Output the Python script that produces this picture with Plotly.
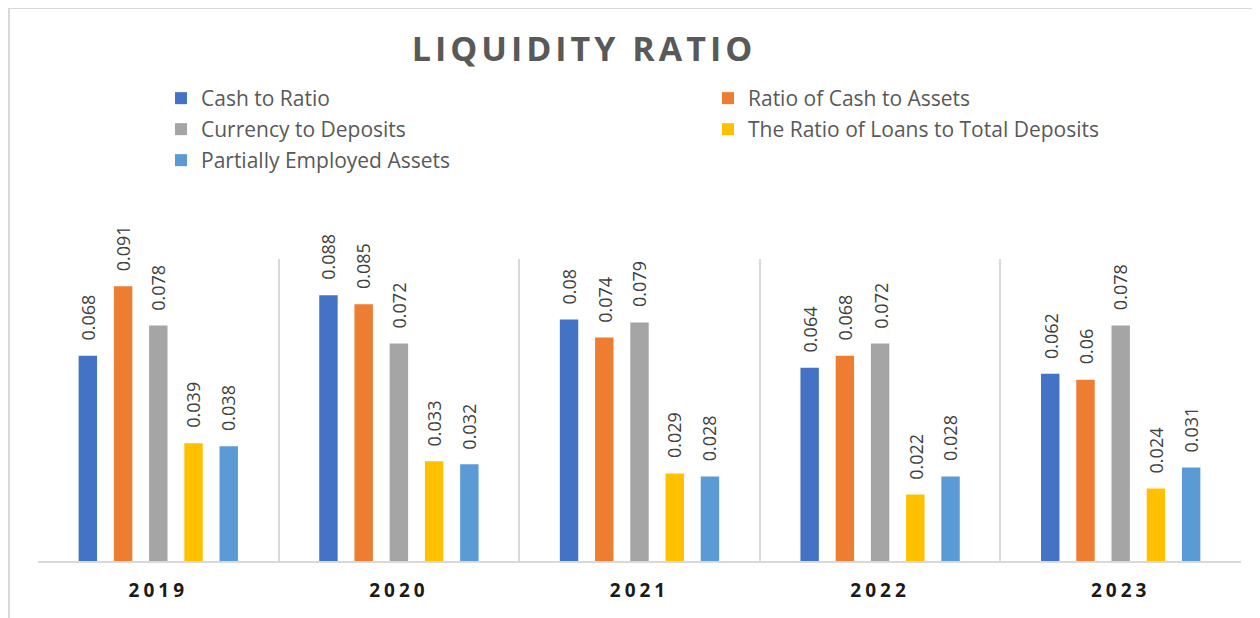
import plotly.graph_objects as go

# ---------------- data ----------------
years = ["2019", "2020", "2021", "2022", "2023"]
series_names = [
    "Cash to Ratio",
    "Ratio of Cash to Assets",
    "Currency to Deposits",
    "The Ratio of Loans to Total Deposits",
    "Partially Employed Assets",
]
cash_to_ratio = [0.068, 0.088, 0.08, 0.064, 0.062]
cash_to_assets = [0.091, 0.085, 0.074, 0.068, 0.06]
currency_to_deposits = [0.078, 0.072, 0.079, 0.072, 0.078]
loans_to_deposits = [0.039, 0.033, 0.029, 0.022, 0.024]
partially_employed = [0.038, 0.032, 0.028, 0.028, 0.031]
series_values = [cash_to_ratio, cash_to_assets, currency_to_deposits,
                 loans_to_deposits, partially_employed]
colors = ["#4472C4", "#ED7D31", "#A5A5A5", "#FFC000", "#5B9BD5"]
title_text = "LIQUIDITY RATIO"

# ---------------- layout geometry ----------------
# the page body has an 8px margin: figure pixels = page pixels - 8
OFF = 8
W, H = 1260 - OFF, 618 - OFF
ML, MR, MT, MB = 38 - OFF, 27 - OFF, 259 - OFF, 57
PW, PH = W - ML - MR, H - MT - MB
BARGAP = 0.268
BARGROUPGAP = 0.477
FONT = "Open Sans"

fig = go.Figure()
legend_of = ["legend", "legend2", "legend", "legend2", "legend"]
for k, (name, vals, col, lg) in enumerate(zip(series_names, series_values, colors, legend_of)):
    fig.add_trace(go.Bar(
        x=years, y=vals, name=name, marker=dict(color=col, line=dict(width=0)),
        legend=lg, legendgroup="g%d" % k, hoverinfo="x+y+name",
    ))

# data labels (rotated) as annotations anchored at the bar tops
n = len(series_names)
cat_px = PW / len(years)
slot_px = cat_px * (1 - BARGAP) / n
for i, vals in enumerate(series_values):
    for j, v in enumerate(vals):
        fig.add_annotation(
            x=j, y=v, xref="x", yref="y", text=str(v), showarrow=False,
            textangle=-90, xanchor="center", yanchor="bottom",
            xshift=round((i - (n - 1) / 2) * slot_px, 1), yshift=13,
            font=dict(family=FONT, size=18, color="#404040"),
        )

# outer frame (top and left light-grey border) along the figure edge
def px_to_paper_x(p):
    return (p - ML) / PW

def px_to_paper_y(p):
    return (H - MB - p) / PH

frame_path = "M {x0},{y0} L {x0},{y1} L {x2},{y1}".format(
    x0=px_to_paper_x(1), y0=px_to_paper_y(H + 5),
    y1=px_to_paper_y(0), x2=px_to_paper_x(W + 5))

ticktext = ['<span style="letter-spacing:4px">%s</span>' % y for y in years]

legend_common = dict(
    orientation="v", xref="container", yref="container", xanchor="left",
    yanchor="top", font=dict(family=FONT, size=21, color="#595959"),
    bgcolor="rgba(0,0,0,0)", borderwidth=0, tracegroupgap=0.7,
    traceorder="grouped",
)

fig.update_layout(
    width=W, height=H,
    margin=dict(l=ML, r=MR, t=MT, b=MB, pad=0, autoexpand=False),
    paper_bgcolor="white", plot_bgcolor="white",
    barmode="group", bargap=BARGAP, bargroupgap=BARGROUPGAP,
    font=dict(family=FONT, color="#595959"),
    title=dict(
        text='<b><span style="letter-spacing:4px">%s</span></b>' % title_text,
        x=(584 - OFF) / W, xref="container", xanchor="center",
        y=1 - (49 - OFF) / H, yref="container", yanchor="middle",
        font=dict(family=FONT, size=34, color="#595959"),
    ),
    showlegend=True,
    legend=dict(legend_common, x=(161 - OFF) / W, y=1 - (78 - OFF) / H),
    legend2=dict(legend_common, x=(708 - OFF) / W, y=1 - (78 - OFF) / H),
    xaxis=dict(
        type="category", tickmode="array", tickvals=years, ticktext=ticktext,
        tickson="boundaries", ticks="", showgrid=True, gridcolor="#d9d9d9",
        gridwidth=1.5, showline=True, linecolor="#d9d9d9", linewidth=2,
        ticklabelstandoff=11, tickangle=0, automargin=False,
        tickfont=dict(family=FONT, size=19, color="#1a1a1a", weight="bold"),
        range=[-0.5, len(years) - 0.5], fixedrange=True,
    ),
    yaxis=dict(
        range=[0, 0.1], showgrid=False, zeroline=False, showticklabels=False,
        ticks="", showline=False, fixedrange=True, automargin=False,
    ),
    shapes=[dict(type="path", path=frame_path, xref="paper", yref="paper",
                 line=dict(color="#d9d9d9", width=2), layer="above")],
)

fig.write_html("out.html")
